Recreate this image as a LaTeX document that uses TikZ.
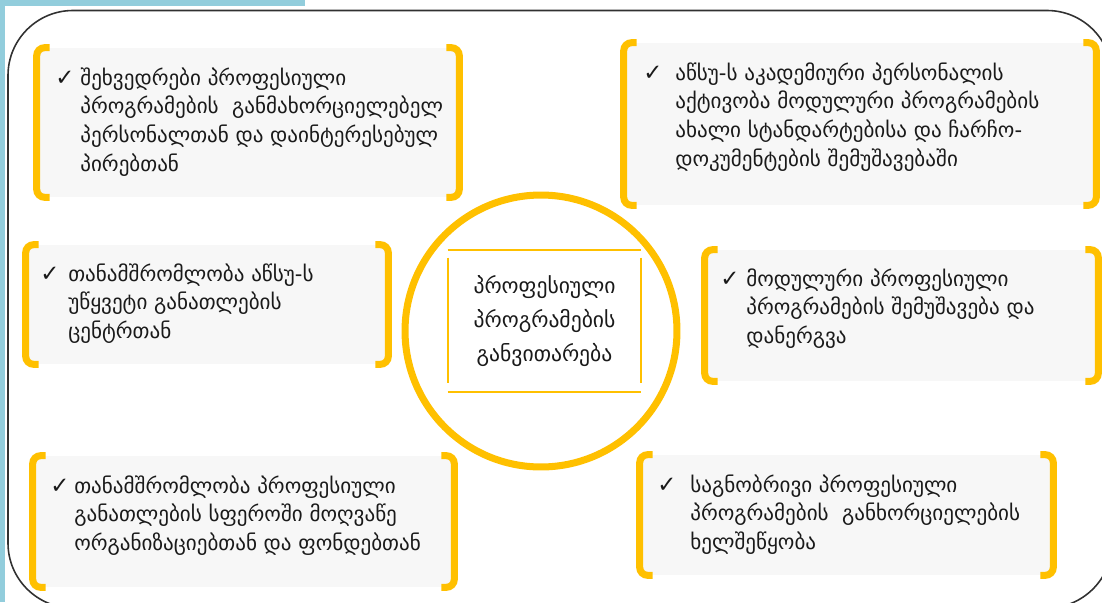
\documentclass[tikz,border=0pt]{standalone}
\usepackage{fontspec}
\setmainfont{DejaVu Sans}
\usetikzlibrary{positioning}
\definecolor{gold}{HTML}{FFC000}
\definecolor{paper}{HTML}{F7F7F7}
\definecolor{sky}{HTML}{92CDDC}
\definecolor{ink}{HTML}{1A1A1A}
\newcommand{\ticklist}[2]{\begin{tabular}[t]{@{}p{#1}@{}l@{}}{\bfseries\fontsize{13}{13}\selectfont ✓} & #2\end{tabular}}
\tikzset{
	card/.style={
		rectangle,
		fill=paper,
		inner sep=0pt
	},
	bracket/.style={
		draw=gold,
		line width=4pt,
		rounded corners=0.16cm
	},
	item/.style={
		anchor=base west,
		inner sep=0pt,
		text=ink,
		font=\fontsize{12}{16.5}\selectfont
	},
	hub/.style={
		circle,
		draw=gold,
		fill=white,
		line width=4pt,
		minimum size=5.44cm
	},
	core/.style={
		rectangle,
		inner sep=0pt,
		align=center,
		text=ink,
		minimum width=3.86cm,
		minimum height=2.84cm,
		font=\fontsize{12.3}{19.6}\selectfont
	},
	rim/.style={draw=gold, line width=1.1pt},
	frame/.style={draw=ink!90, line width=0.9pt, rounded corners=1.3cm}
}

\begin{document}
\begin{tikzpicture}[x=0.02cm, y=-0.02cm]
	\useasboundingbox (0,0) rectangle (1102,602);
	% page edge and outline
	\fill[sky] (0,0) rectangle (305,6);
	\fill[sky] (0,0) rectangle (5,602);
	\draw[frame] (8,10.5) rectangle (1112,608);

	% cards
	\node[card, minimum width=8.44cm, minimum height=2.98cm] (c1) at (248,122.5) {};
	\node[card, minimum width=9.44cm, minimum height=3.24cm] (c2) at (860,124) {};
	\node[card, minimum width=7.24cm, minimum height=2.38cm] (c3) at (207,304.5) {};
	\node[card, minimum width=7.86cm, minimum height=2.62cm] (c4) at (901.5,315.5) {};
	\node[card, minimum width=8.42cm, minimum height=2.62cm] (c5) at (243.5,521.5) {};
	\node[card, minimum width=8.26cm, minimum height=2.40cm] (c6) at (846.5,515) {};

	\foreach \c in {c1,c2,c3,c4,c5,c6} {
		\draw[bracket] ([xshift=0.26cm]\c.north west) -- (\c.north west) -- (\c.south west) -- ([xshift=0.26cm]\c.south west);
		\draw[bracket] ([xshift=-0.26cm]\c.north east) -- (\c.north east) -- (\c.south east) -- ([xshift=-0.26cm]\c.south east);
	}

	% texts
	\node[item] (t1) at (55,85) {\ticklist{0.5cm}{შეხვედრები პროფესიული\\ & პროგრამების~ განმახორციელებელ\\ & პერსონალთან და დაინტერესებულ\\ & პირებთან}};
	\node[item] (t2) at (643,80) {\ticklist{0.64cm}{აწსუ-ს აკადემიური პერსონალის\\ & აქტივობა მოდულური პროგრამების\\ & ახალი სტანდარტებისა და ჩარჩო-\\ & დოკუმენტების შემუშავებაში}};
	\node[item] (t3) at (40,281) {\ticklist{0.56cm}{თანამშრომლობა აწსუ-ს\\ & უწყვეტი განათლების\\ & ცენტრთან}};
	\node[item] (t4) at (720,286) {\ticklist{0.52cm}{მოდულური პროფესიული\\ & პროგრამების შემუშავება და\\ & დანერგვა}};
	\node[item] (t5) at (50,493) {\ticklist{0.48cm}{თანამშრომლობა პროფესიული\\ & განათლების სფეროში მოღვაწე\\ & ორგანიზაციებთან და ფონდებთან}};
	\node[item] (t6) at (657,492) {\ticklist{0.66cm}{საგნობრივი პროფესიული\\ & პროგრამების~ განხორციელების\\ & ხელშეწყობა}};

	% centre
	\node[hub] (ring) at (541,331) {};
	\node[core] (goal) at (544.5,321) {პროფესიული\\პროგრამების\\განვითარება};
	\draw[rim] (goal.north west) -- (goal.north east);
	\draw[rim] (goal.south west) -- (goal.south east);
	\draw[rim, shorten <=0.16cm, shorten >=0.18cm] (goal.north west) -- (goal.south west);
	\draw[rim, shorten <=0.16cm, shorten >=0.18cm] (goal.north east) -- (goal.south east);
\end{tikzpicture}
\end{document}
